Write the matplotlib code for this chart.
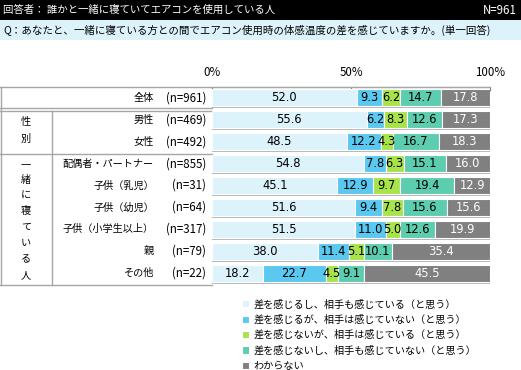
import numpy as np
import matplotlib.pyplot as plt

plt.rcParams['font.family'] = ['Noto Sans CJK JP', 'DejaVu Sans']

names = ["全体", "男性", "女性", "配偶者・パートナー", "子供（乳児）", "子供（幼児）",
         "子供（小学生以上）", "親", "その他"]
counts = ["(n=961)", "(n=469)", "(n=492)", "(n=855)", "(n=31)", "(n=64)",
          "(n=317)", "(n=79)", "(n=22)"]
feel_both = [52.0, 55.6, 48.5, 54.8, 45.1, 51.6, 51.5, 38.0, 18.2]
feel_me_only = [9.3, 6.2, 12.2, 7.8, 12.9, 9.4, 11.0, 11.4, 22.7]
feel_partner_only = [6.2, 8.3, 4.3, 6.3, 9.7, 7.8, 5.0, 5.1, 4.5]
feel_neither = [14.7, 12.6, 16.7, 15.1, 19.4, 15.6, 12.6, 10.1, 9.1]
unknown = [17.8, 17.3, 18.3, 16.0, 12.9, 15.6, 19.9, 35.4, 45.5]
series_labels = ["差を感じるし、相手も感じている（と思う）",
                 "差を感じるが、相手は感じていない（と思う）",
                 "差を感じないが、相手は感じている（と思う）",
                 "差を感じないし、相手も感じていない（と思う）",
                 "わからない"]
colors = ["#DDF3FB", "#5BC8F0", "#A9E34B", "#5CCDAE", "#808080"]
text_colors = ["black", "black", "black", "black", "white"]

W, H = 521, 370
fs_jp = 7.3
fig = plt.figure(figsize=(W / 100, H / 100), dpi=100)

# background axes in pixel coordinates for header, table and legend
bg = fig.add_axes([0, 0, 1, 1])
bg.set_xlim(0, W)
bg.set_ylim(H, 0)
bg.axis("off")

bg.add_patch(plt.Rectangle((0, 0), W, 20, color="black", lw=0))
bg.add_patch(plt.Rectangle((0, 20), W, 20, color="#DDF3FB", lw=0))
bg.text(3, 10, "回答者： 誰かと一緒に寝ていてエアコンを使用している人", color="white",
        fontsize=7.5, va="center", ha="left")
bg.text(517, 10, "N=961", color="white", fontsize=8.3, va="center", ha="right")
bg.text(3, 30, "Q：あなたと、一緒に寝ている方との間でエアコン使用時の体感温度の差を感じていますか。(単一回答)",
        color="black", fontsize=7.55, va="center", ha="left")

# table lines
line_kw = dict(color="#A6A6A6", lw=1)
bg.plot([0, 490], [87, 87], **line_kw)
bg.plot([0, 212], [108, 108], **line_kw)
bg.plot([0, 212], [110.5, 110.5], **line_kw)
bg.plot([0, 212], [153.5, 153.5], **line_kw)
bg.plot([0, 212], [284.5, 284.5], **line_kw)
bg.plot([1, 1], [87, 284.5], **line_kw)
bg.plot([52, 52], [110.5, 284.5], **line_kw)

# bar axes
x0, x1, y0, y1 = 212, 490, 87, 284
ax = fig.add_axes([x0 / W, 1 - y1 / H, (x1 - x0) / W, (y1 - y0) / H])
ypos = np.arange(len(names))
series = [feel_both, feel_me_only, feel_partner_only, feel_neither, unknown]
bar_h = 0.78
ax.barh(ypos + 0.09, 100, height=bar_h, color="#B5B5B5", lw=0, zorder=1)
left = np.zeros(len(names))
for vals, c, tc, lab in zip(series, colors, text_colors, series_labels):
    vals = np.array(vals)
    ax.barh(ypos, vals, left=left, height=bar_h, color=c, edgecolor="white",
            lw=0.8, label=lab, zorder=2)
    for yi, (l, v) in enumerate(zip(left, vals)):
        ax.text(l + v / 2, yi, f"{v:.1f}", ha="center", va="center",
                color=tc, fontsize=8.3, family="DejaVu Sans", zorder=3)
    left += vals
ax.set_xlim(0, 100)
ax.set_ylim(len(names) - 0.5, -0.5)
ax.set_yticks([])
ax.set_xticks([0, 50, 100])
ax.xaxis.tick_top()
ax.set_xticklabels(["0%", "50%", "100%"], fontsize=8.3)
ax.tick_params(axis="x", direction="in", length=3, color="#808080", pad=6)
for s in ["right", "bottom", "left"]:
    ax.spines[s].set_visible(False)
ax.spines["top"].set_color("#A6A6A6")
ax.patch.set_alpha(0)

# row labels
row_h = (y1 - y0) / len(names)
for i, (nm, ct) in enumerate(zip(names, counts)):
    yc = y0 + row_h * (i + 0.5)
    bg.text(154, yc, nm, ha="right", va="center", fontsize=fs_jp)
    bg.text(206, yc, ct, ha="right", va="center", fontsize=8.3)

# group labels (vertical)
for ch, yc in zip("性別", [122, 139]):
    bg.text(26, yc, ch, ha="center", va="center", fontsize=fs_jp)
grp = "一緒に寝ている人"
for k, ch in enumerate(grp):
    bg.text(26, 164 + k * 15.8, ch, ha="center", va="center", fontsize=fs_jp)

# legend
handles, labels = ax.get_legend_handles_labels()
fig.legend(handles, labels, loc="upper left", bbox_to_anchor=(238 / W, 1 - 295 / H),
           frameon=False, fontsize=fs_jp, handlelength=0.7, handleheight=0.7,
           handletextpad=0.4, labelspacing=0.5, borderaxespad=0)

fig.savefig("out.png", dpi=100)
